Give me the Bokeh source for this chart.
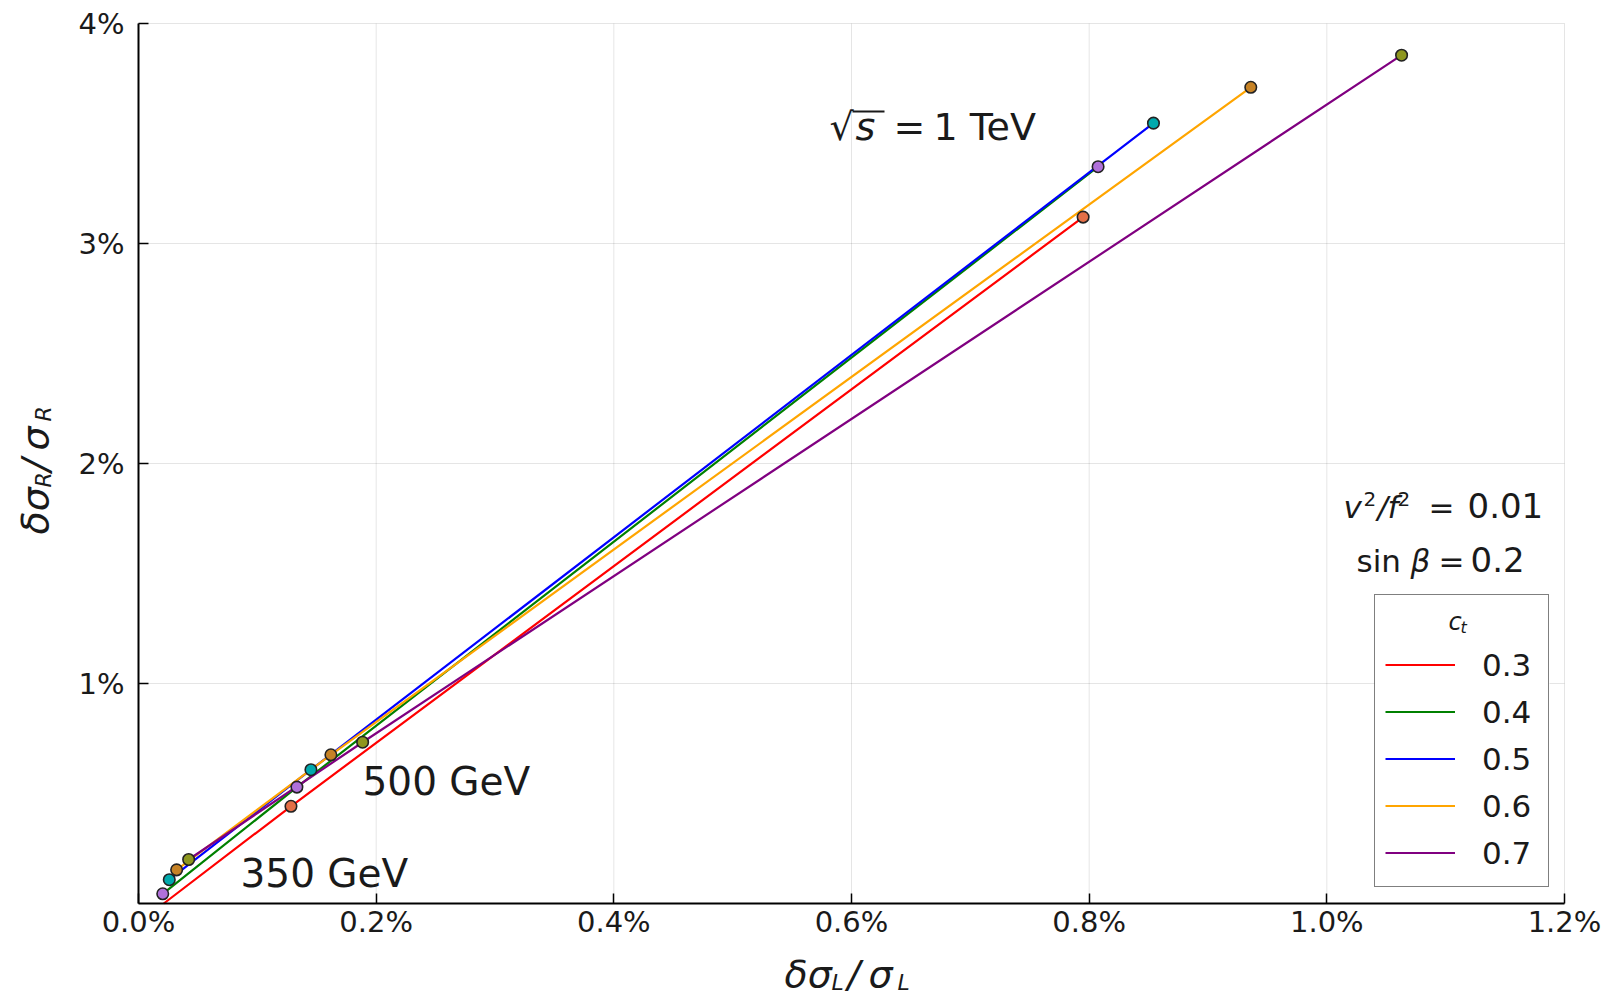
from math import pi
from bokeh.plotting import figure
from bokeh.models import Range1d, FixedTicker, Legend, LegendItem, Label
from bokeh.embed import file_html
from bokeh.resources import INLINE

# ---------------- data (values in percent) ----------------
ct_labels = ["0.3", "0.4", "0.5", "0.6", "0.7"]
energies = ["350 GeV", "500 GeV", "1 TeV"]
# δσ_L/σ_L and δσ_R/σ_R at sqrt(s) = 350 GeV, 500 GeV, 1 TeV
dL_03 = [0.0140, 0.1283, 0.7949]
dR_03 = [-0.030, 0.442, 3.120]
dL_04 = [0.0204, 0.1333, 0.8075]
dR_04 = [0.044, 0.529, 3.349]
dL_05 = [0.0259, 0.1451, 0.8541]
dR_05 = [0.108, 0.608, 3.547]
dL_06 = [0.0321, 0.1619, 0.9360]
dR_06 = [0.153, 0.676, 3.710]
dL_07 = [0.0422, 0.1886, 1.0629]
dR_07 = [0.200, 0.733, 3.856]

series_L = [dL_03, dL_04, dL_05, dL_06, dL_07]
series_R = [dR_03, dR_04, dR_05, dR_06, dR_07]

line_colors = ["#FF0000", "#008000", "#0000FF", "#FFA500", "#800080"]
marker_colors = ["#E36F47", "#B070DA", "#00A9AD", "#C68225", "#8E971E"]

x_ticks = [0.0, 0.2, 0.4, 0.6, 0.8, 1.0, 1.2]
x_tick_labels = ["0.0%", "0.2%", "0.4%", "0.6%", "0.8%", "1.0%", "1.2%"]
y_ticks = [1, 2, 3, 4]
y_tick_labels = ["1%", "2%", "3%", "4%"]

# ---------------- layout ----------------
W, H = 1620, 999
FL, FR, FT, FB = 138, 1564, 23, 903      # plot area inside the canvas
XMAX, YMAX = 1.2, 4.0
KX = (FR - FL) / XMAX
KY = (FB - FT) / YMAX
FONT = "DejaVu Sans"
TXT = "#1a1a1a"

p = figure(frame_width=W, frame_height=H, min_border=0,
           x_range=Range1d(-FL / KX, XMAX + (W - FR) / KX),
           y_range=Range1d(-(H - FB) / KY, YMAX + FT / KY),
           output_backend="svg", toolbar_location=None,
           background_fill_color="white", border_fill_color="white")
p.outline_line_color = None
p.xgrid.visible = False
p.ygrid.visible = False

xa, ya = p.xaxis[0], p.yaxis[0]
xa.fixed_location = 0
ya.fixed_location = 0
xa.bounds = (0, XMAX)
ya.bounds = (0, YMAX)
for ax in (xa, ya):
    ax.axis_line_color = "black"
    ax.axis_line_width = 2
    ax.major_tick_in = 10
    ax.major_tick_out = 0
    ax.major_tick_line_width = 1.5
    ax.minor_tick_line_color = None
    ax.major_label_text_font = FONT
    ax.major_label_text_font_size = "29px"
    ax.major_label_text_color = TXT
    ax.axis_label = None

xa.ticker = FixedTicker(ticks=x_ticks)
xa.major_label_overrides = {t: s for t, s in zip(x_ticks, x_tick_labels)}
xa.major_label_standoff = 1
ya.ticker = FixedTicker(ticks=y_ticks)
ya.major_label_overrides = {t: s for t, s in zip(y_ticks, y_tick_labels)}
ya.major_label_standoff = 14

# grid lines limited to the plot area, at the tick positions
p.segment(x0=x_ticks, y0=[0] * len(x_ticks), x1=x_ticks, y1=[YMAX] * len(x_ticks),
          line_color="black", line_alpha=0.1, line_width=1)
p.segment(x0=[0] * len(y_ticks), y0=y_ticks, x1=[XMAX] * len(y_ticks), y1=y_ticks,
          line_color="black", line_alpha=0.1, line_width=1)


def dx(px):
    return (px - FL) / KX


def dy(py):
    return (FB - py) / KY


def clip_line(xs, ys, ymin=0.0):
    """Clip a polyline to y >= ymin (emulates clipping to the plot area)."""
    ox, oy = [], []
    for i in range(len(xs) - 1):
        x0, y0, x1, y1 = xs[i], ys[i], xs[i + 1], ys[i + 1]
        if y0 < ymin and y1 < ymin:
            continue
        if y0 < ymin:
            t = (ymin - y0) / (y1 - y0)
            x0, y0 = x0 + t * (x1 - x0), ymin
        if y1 < ymin:
            t = (ymin - y0) / (y1 - y0)
            x1, y1 = x0 + t * (x1 - x0), ymin
        if not ox or ox[-1] != x0 or oy[-1] != y0:
            ox.append(x0)
            oy.append(y0)
        ox.append(x1)
        oy.append(y1)
    return ox, oy


# white background under the legend box
LBX0, LBX1, LBY0, LBY1 = 1374, 1549, 595, 887
p.quad(left=[dx(LBX0)], right=[dx(LBX1)], top=[dy(LBY0)], bottom=[dy(LBY1)],
       fill_color="white", line_color=None)

# ---------------- lines and markers ----------------
line_renderers = []
for xs, ys, lc in zip(series_L, series_R, line_colors):
    cx, cy = clip_line(xs, ys)
    r = p.line(cx, cy, line_color=lc, line_width=2.2)
    line_renderers.append(r)
for xs, ys, mc in zip(series_L, series_R, marker_colors):
    keep = [(a, b) for a, b in zip(xs, ys) if 0 <= a <= XMAX and 0 <= b <= YMAX]
    p.scatter([a for a, _ in keep], [b for _, b in keep], size=11.5,
              fill_color=mc, line_color="#222222", line_width=1.6)

# ---------------- legend ----------------
legend = Legend(items=[LegendItem(label=l, renderers=[r]) for l, r in zip(ct_labels, line_renderers)],
                location=(LBX0, H - LBY1), title="\u2002",
                title_text_font_size="24px", title_standoff=8,
                label_text_font=FONT, label_text_font_size="31px", label_text_color=TXT,
                glyph_width=70, glyph_height=47, label_height=47, label_width=56, spacing=0,
                padding=10, margin=0, label_standoff=27,
                border_line_color="black", border_line_width=1.5,
                background_fill_alpha=0.0)
p.add_layout(legend)


# ---------------- text annotations ----------------
SHIFT = 0.35  # compensation of the renderer's baseline placement (fraction of font size)


def lab(px, py, text, size, italic=False, rotated=False):
    if rotated:
        px = px - SHIFT * size
    else:
        py = py - SHIFT * size
    p.add_layout(Label(x=dx(px), y=dy(py), text=text, text_font=FONT,
                       text_font_size=f"{size}px",
                       text_font_style="italic" if italic else "normal",
                       text_color=TXT, text_align="left", text_baseline="alphabetic",
                       angle=pi / 2 if rotated else 0.0))


# legend title c_t
lab(1448, 630, "c", 24, True)
lab(1460, 633, "t", 16, True)

# energy labels
lab(362, 795, energies[1], 39)
lab(240, 887, energies[0], 39)

# sqrt(s) = 1 TeV
lab(829, 140, "\u221a", 38)
lab(855, 140, "s", 38, True)
p.segment(x0=[dx(852)], y0=[dy(111)], x1=[dx(884)], y1=[dy(111)], line_color=TXT, line_width=2)
lab(893, 140, "=", 38)
lab(933, 140, energies[2], 38)

# v^2/f^2 = 0.01
lab(1343, 517, "v", 31, True)
lab(1363, 505, "2", 20)
lab(1377, 517, "/", 31, True)
lab(1387, 517, "f", 31, True)
lab(1397, 505, "2", 20)
lab(1428, 517, "=", 31)
lab(1467, 517, "0.01", 34)

# sin beta = 0.2
lab(1356, 571, "sin", 31)
lab(1410, 571, "\u03b2", 31, True)
lab(1438, 571, "=", 31)
lab(1470, 571, "0.2", 34)

# x axis label: δσ_L/σ_L
XB = 987
lab(784, XB, "\u03b4\u03c3", 38, True)
lab(831, XB + 3, "L", 22, True)
lab(847, XB, "/", 38, True)
lab(868, XB, "\u03c3", 38, True)
lab(897, XB + 3, "L", 22, True)

# y axis label: δσ_R/σ_R (rotated)
YB = 48
lab(YB, 534, "\u03b4\u03c3", 38, True, True)
lab(YB + 3, 487, "R", 22, True, True)
lab(YB, 471, "/", 38, True, True)
lab(YB, 450, "\u03c3", 38, True, True)
lab(YB + 3, 421, "R", 22, True, True)

open("out.html", "w").write(file_html(p, INLINE))
